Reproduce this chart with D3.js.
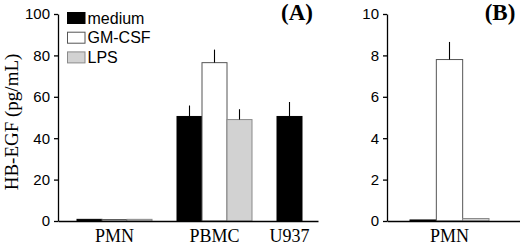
<!DOCTYPE html>
<html>
<head>
<meta charset="utf-8">
<script src="https://cdn.jsdelivr.net/npm/d3@7"></script>
<style>
  body { margin: 0; background: #fff; }
  svg { display: block; }
  .tick text { font-family: "Liberation Sans", Arial, sans-serif; font-size: 15px; fill: #000; }
</style>
</head>
<body>
<div id="chart"></div>
<script>
// panel A data
var seriesNames = ["medium", "GM-CSF", "LPS"];
var seriesFill = ["#000000", "#ffffff", "#d2d2d2"];
var seriesStroke = ["#000000", "#555555", "#8a8a8a"];
var cellsA = ["PMN", "PBMC", "U937"];
var mediumA = [0.8, 50.5, 50.5];
var gmcsfA = [0.7, 76.5, null];
var lpsA = [0.8, 49, null];
var mediumErrA = [0, 5.3, 7];
var gmcsfErrA = [0, 6.3, null];
var lpsErrA = [0, 5, null];
var ticksA = [0, 20, 40, 60, 80, 100];

// panel B data
var cellsB = ["PMN"];
var mediumB = [0.05];
var gmcsfB = [7.8];
var lpsB = [0.12];
var mediumErrB = [0];
var gmcsfErrB = [0.85];
var lpsErrB = [0];
var ticksB = [0, 2, 4, 6, 8, 10];

var W = 520, H = 247;
var svg = d3.select("#chart").append("svg").attr("width", W).attr("height", H);

// turn the arrays into bars placed on slots, with an empty slot between cell types
function buildBars(cells, vals, errs) {
  var bars = [], groups = [], slot = 0;
  cells.forEach(function(c, g) {
    var first = slot;
    vals.forEach(function(arr, s) {
      if (arr[g] == null) return;
      bars.push({cell: c, series: s, value: arr[g], err: errs[s][g], slot: slot});
      slot++;
    });
    groups.push({cell: c, from: first, to: slot - 1});
    slot++;
  });
  return {bars: bars, groups: groups, nSlots: slot - 1};
}

function panel(opt) {
  var data = buildBars(opt.cells, opt.vals, opt.errs);
  var y = d3.scaleLinear().domain([0, opt.max]).range([221, 14]);
  var xs = d3.scaleBand().domain(d3.range(data.nSlots)).range(opt.barRange).padding(0);
  var xl = d3.scaleLinear().domain([0, 1]).range(opt.axisRange);

  var g = svg.append("g");

  g.selectAll("rect.bar").data(data.bars).enter().append("rect")
    .attr("class", "bar")
    .attr("x", function(d) { return xs(d.slot); })
    .attr("width", xs.bandwidth())
    .attr("y", function(d) { return y(d.value); })
    .attr("height", function(d) { return y(0) - y(d.value); })
    .attr("fill", function(d) { return seriesFill[d.series]; })
    .attr("stroke", function(d) { return seriesStroke[d.series]; })
    .attr("stroke-width", 1);

  // error bars, only the upper whisker
  g.selectAll("line.err").data(data.bars.filter(function(d) { return d.err > 0; })).enter().append("line")
    .attr("class", "err")
    .attr("x1", function(d) { return xs(d.slot) + xs.bandwidth() / 2; })
    .attr("x2", function(d) { return xs(d.slot) + xs.bandwidth() / 2; })
    .attr("y1", function(d) { return y(d.value); })
    .attr("y2", function(d) { return y(d.value + d.err); })
    .attr("stroke", "#000").attr("stroke-width", 1.1);

  var ya = g.append("g")
    .attr("transform", "translate(" + opt.axisRange[0] + ",0)")
    .call(d3.axisLeft(y).tickValues(opt.ticks).tickSize(4).tickSizeOuter(0).tickPadding(4));
  ya.selectAll("path, line").attr("stroke", "#000").attr("stroke-width", 1.3);

  var xa = g.append("g")
    .attr("transform", "translate(0," + y(0) + ")")
    .call(d3.axisBottom(xl).tickValues([]).tickSizeOuter(0));
  xa.select("path").attr("stroke", "#000").attr("stroke-width", 1.4);

  g.selectAll("text.cell").data(data.groups).enter().append("text")
    .attr("class", "cell")
    .attr("x", function(d) { return (xs(d.from) + xs(d.to) + xs.bandwidth()) / 2; })
    .attr("y", 242)
    .attr("text-anchor", "middle")
    .attr("font-family", "'Liberation Serif', 'Times New Roman', serif")
    .attr("font-size", 18)
    .text(function(d) { return d.cell; });

  g.append("text")
    .attr("x", opt.labelX).attr("y", 20)
    .attr("text-anchor", "middle")
    .attr("font-family", "'Liberation Serif', 'Times New Roman', serif")
    .attr("font-weight", "bold")
    .attr("font-size", 23)
    .text(opt.label);
}

panel({cells: cellsA, vals: [mediumA, gmcsfA, lpsA], errs: [mediumErrA, gmcsfErrA, lpsErrA],
  max: 100, ticks: ticksA, barRange: [77, 302], axisRange: [58, 318], label: "(A)", labelX: 297});
panel({cells: cellsB, vals: [mediumB, gmcsfB, lpsB], errs: [mediumErrB, gmcsfErrB, lpsErrB],
  max: 10, ticks: ticksB, barRange: [410, 489], axisRange: [387, 522], label: "(B)", labelX: 500});

// y title
svg.append("text")
  .attr("transform", "translate(18,122) rotate(-90)")
  .attr("text-anchor", "middle")
  .attr("font-family", "'Liberation Serif', 'Times New Roman', serif")
  .attr("font-size", 19)
  .text("HB-EGF (pg/mL)");

// legend
var leg = svg.append("g").attr("transform", "translate(67,12)");
var li = leg.selectAll("g").data(seriesNames).enter().append("g")
  .attr("transform", function(d, i) { return "translate(0," + i * 19.7 + ")"; });
li.append("rect").attr("x", 0.5).attr("y", 0.5).attr("width", 17.5).attr("height", 11)
  .attr("fill", function(d, i) { return seriesFill[i]; })
  .attr("stroke", function(d, i) { return seriesStroke[i]; });
li.append("text").attr("x", 20.5).attr("y", 11.5)
  .attr("font-family", "'Liberation Sans Narrow', 'Arial Narrow', 'Liberation Sans', sans-serif")
  .attr("font-size", 16)
  .text(function(d) { return d; });
</script>
</body>
</html>
